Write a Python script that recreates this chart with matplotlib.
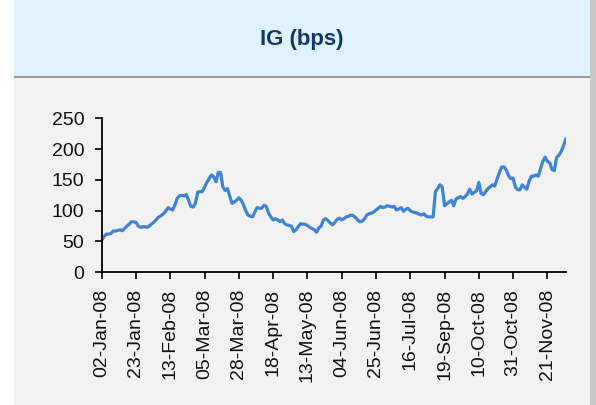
import numpy as np
import matplotlib.pyplot as plt
from matplotlib.patches import Rectangle

plt.rcParams['font.family'] = ['Liberation Sans', 'DejaVu Sans']

# IG spread, bps (one value per trading day)
ig_bps = [
    52, 58, 62, 62, 63, 67, 67, 68, 69, 67.5,
    71, 75, 78, 82, 82, 81, 75, 73, 74, 74,
    73, 76, 79, 82, 86, 90, 92, 95, 99, 105,
    103, 101, 109, 120, 124, 125, 124, 126, 117, 107,
    106, 112, 130, 131, 131, 138, 146, 152, 158, 155,
    147, 162, 162, 139, 133, 136, 124, 112, 114, 117,
    121, 117, 110, 100, 93, 91, 90, 98, 105, 104,
    104, 109, 107, 96, 90, 85, 87, 85, 82, 85,
    79, 77, 76, 75, 66, 69, 74, 79, 78, 78,
    76, 73, 71, 69, 65, 72, 75, 85, 87, 84,
    80, 77, 81, 86, 88, 85, 87, 90, 91, 93,
    92, 89, 85, 82, 83, 87, 93, 95, 96, 98,
    101, 104, 107, 105, 106, 108, 107, 106, 107, 101,
    103, 105, 99, 102, 104, 100, 98, 97, 96, 94,
    93, 95, 91, 90, 90, 90, 131, 136, 142, 138,
    108, 111, 114, 117, 108, 119, 121, 123, 120, 123,
    127, 135, 127, 130, 132, 146, 128, 126, 131, 136,
    139, 142, 140, 152, 162, 171, 171, 166, 157, 152,
    153, 138, 134, 134, 142, 138, 135, 148, 156, 156,
    158, 156, 168, 180, 187, 180, 178, 167, 165, 186,
    190, 196, 205, 216,
]

tick_labels = ['02-Jan-08', '23-Jan-08', '13-Feb-08', '05-Mar-08', '28-Mar-08',
               '18-Apr-08', '13-May-08', '04-Jun-08', '25-Jun-08', '16-Jul-08',
               '19-Sep-08', '10-Oct-08', '31-Oct-08', '21-Nov-08']
tick_step = 15

W, H = 596, 405
fig = plt.figure(figsize=(W / 100, H / 100), dpi=100)
fig.patch.set_facecolor('white')

# panel: shadow, body, title band (behind the axes)
def panel_rect(x0, y0, w, h, color):
    fig.patches.append(Rectangle((x0 / W, 1 - (y0 + h) / H), w / W, h / H,
                                 transform=fig.transFigure, facecolor=color,
                                 edgecolor='none', zorder=-5))

panel_rect(590, 0, 6, H, '#C8C8C8')
panel_rect(14, 0, 576, H, '#F2F2F2')
panel_rect(14, 76, 576, 2, '#9A9A9A')
panel_rect(14, 0, 576, 76, '#DFF1FD')
fig.text(302 / W, 1 - 40 / H, 'IG (bps)', ha='center', va='center',
         fontsize=16, fontweight='bold', color='#12386A')

ax = fig.add_axes([101.7 / W, 1 - 272.3 / H, 464 / W, 154 / H])
ax.set_zorder(2)
ax.set_facecolor('none')
x = np.arange(len(ig_bps))
ax.plot(x, ig_bps, color='#3E83D5', lw=2.3, solid_joinstyle='round')

ax.set_xlim(0, len(ig_bps) - 1)
ax.set_ylim(0, 250)
ax.set_yticks(range(0, 251, 50))
ax.set_xticks(range(0, tick_step * len(tick_labels), tick_step))
ax.set_xticklabels(tick_labels, rotation=90)
for s in ['top', 'right']:
    ax.spines[s].set_visible(False)
for s in ['left', 'bottom']:
    ax.spines[s].set_linewidth(1.3)
ax.tick_params(axis='both', labelsize=14, length=5, width=1.2, color='black',
               labelcolor='#111111')
ax.tick_params(axis='y', pad=7.5)
ax.tick_params(axis='x', pad=7)

fig.savefig('out.png', dpi=100)
